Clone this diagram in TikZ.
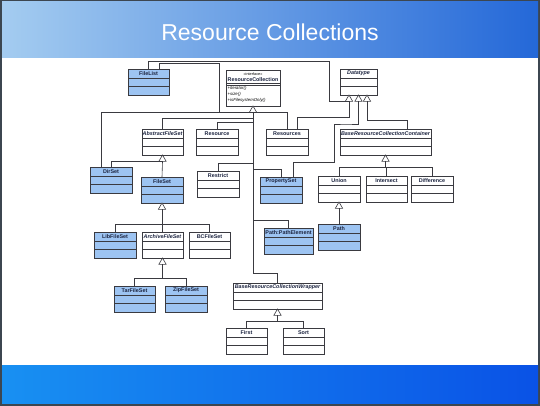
\documentclass[tikz,border=0pt]{standalone}
\usepackage{fontspec}
\setmainfont{Liberation Sans}
\usetikzlibrary{shapes.geometric}

\definecolor{frame}{HTML}{3C4650}
\definecolor{bandL}{HTML}{A4CCF0}
\definecolor{bandR}{HTML}{2468D8}
\definecolor{footL}{HTML}{1890F2}
\definecolor{footR}{HTML}{0A52E6}
\definecolor{clsblue}{HTML}{9DC4F2}
\definecolor{clsline}{HTML}{3A3A40}
\definecolor{navy}{HTML}{1C2440}

\tikzset{
  cls/.style={draw=clsline, line width=0.6pt, fill=white, minimum height=26pt,
    inner sep=0pt, outer sep=0pt, anchor=north west},
  bluecls/.style={cls, fill=clsblue},
  clsfont/.style={font=\fontsize{5.4}{6}\selectfont\bfseries, text=navy, inner sep=0pt},
  sepline/.style={draw=clsline, line width=0.5pt},
  conn/.style={draw=clsline, line width=0.6pt},
  inh/.style={regular polygon, regular polygon sides=3, draw=clsline, fill=white,
    minimum size=8.5pt, inner sep=0pt, outer sep=0pt, line width=0.6pt, anchor=north},
  title/.style={font=\fontsize{23}{26}\selectfont, text=white}
}

% class box: style, name, x, y, width, label
\newcommand{\umlclass}[6]{%
  \node[#1, minimum width=#5pt] (#2) at (#3,#4) {};
  \node[clsfont] (#2-n) at ([yshift=-4.6pt]#2.north) {#6};
  \draw[sepline] ([yshift=-9pt]#2.north west) -- ([yshift=-9pt]#2.north east);
  \draw[sepline] ([yshift=-17.5pt]#2.north west) -- ([yshift=-17.5pt]#2.north east);
}

\begin{document}
\begin{tikzpicture}[x=1pt, y=-1pt]
\useasboundingbox (0,0) rectangle (540,406);
% slide background
\fill[frame] (0,0) rectangle (540,406);
\shade[left color=bandL, right color=bandR] (2,2) rectangle (538,58);
\fill[white] (2,58) rectangle (538,365);
\shade[left color=footL, right color=footR] (2,365) rectangle (538,403);
\node[title] (head) at (270,32) {Resource Collections};

% interface
\node[cls, minimum width=54pt, minimum height=36pt] (RC) at (226,70) {};
\node[font=\fontsize{3.8}{4}\selectfont, inner sep=0pt] (RC-s) at ([yshift=-3.8pt]RC.north) {«interface»};
\node[clsfont] (RC-n) at ([yshift=-9.5pt]RC.north) {ResourceCollection};
\draw[sepline] ([yshift=-13.5pt]RC.north west) -- ([yshift=-13.5pt]RC.north east);
\draw[sepline] ([yshift=-15pt]RC.north west) -- ([yshift=-15pt]RC.north east);
\node[anchor=north west, align=left, inner sep=0pt, font=\fontsize{4.3}{5.9}\selectfont\itshape]
  (RC-m) at ([xshift=1.5pt,yshift=-16pt]RC.north west) {+iterator()\\+size()\\+isFilesystemOnly()};

% classes
\umlclass{bluecls}{FileList}{128}{69}{41}{FileList}
\umlclass{cls}{Datatype}{340}{69}{37}{\itshape Datatype}
\umlclass{cls}{AbstractFileSet}{142}{129}{41}{\itshape AbstractFileSet}
\umlclass{cls}{Resource}{196}{129}{42}{Resource}
\umlclass{cls}{Resources}{266}{129}{42}{Resources}
\umlclass{cls}{BRCC}{340}{129}{91}{\itshape BaseResourceCollectionContainer}
\umlclass{bluecls}{DirSet}{90}{167}{42}{DirSet}
\umlclass{bluecls}{FileSet}{141}{177}{42}{FileSet}
\umlclass{cls}{Restrict}{197}{171}{42}{Restrict}
\umlclass{bluecls}{PropertySet}{260}{177}{42}{PropertySet}
\umlclass{cls}{Union}{318}{176}{42}{Union}
\umlclass{cls}{Intersect}{366}{176}{41}{Intersect}
\umlclass{cls}{Difference}{411}{176}{42}{Difference}
\umlclass{bluecls}{LibFileSet}{94}{232}{42}{LibFileSet}
\umlclass{cls}{ArchiveFileSet}{142}{232}{41}{\itshape ArchiveFileSet}
\umlclass{cls}{BCFileSet}{189}{232}{41}{BCFileSet}
\umlclass{bluecls}{PathElem}{264}{228}{49}{Path:PathElement}
\umlclass{bluecls}{Path}{318}{224}{42}{Path}
\umlclass{bluecls}{TarFileSet}{114}{286}{41}{TarFileSet}
\umlclass{bluecls}{ZipFileSet}{165}{286}{42}{ZipFileSet}
\umlclass{cls}{BRCW}{233}{283}{89}{\itshape BaseResourceCollectionWrapper}
\umlclass{cls}{First}{226}{328}{41}{First}
\umlclass{cls}{Sort}{283}{328}{41}{Sort}

% generalisation heads
\node[inh] (rcT) at (RC.south) {};
\node[inh] (dtA) at ([xshift=-9.5pt]Datatype.south) {};
\node[inh] (dtB) at (Datatype.south) {};
\node[inh] (dtC) at ([xshift=8.5pt]Datatype.south) {};
\node[inh] (afsT) at (AbstractFileSet.south) {};
\node[inh] (fsT) at (FileSet.south) {};
\node[inh] (arT) at (ArchiveFileSet.south) {};
\node[inh] (bccT) at (BRCC.south) {};
\node[inh] (unT) at (Union.south) {};
\node[inh] (bwT) at (BRCW.south) {};

% to ResourceCollection
\draw[conn] ([xshift=10.5pt]FileList.north) |- (219,63) |- (rcT.south);
\draw[conn] ([xshift=-10pt]DirSet.north) |- (rcT.south);
\draw[conn] (AbstractFileSet.north) -- ++(0,-11) -| (rcT.south);
\draw[conn] (Resource.north) -- ++(0,-7) -| (rcT.south);
\draw[conn] (Resources.north) |- (rcT.south);
\draw[conn] (Restrict.north) -- ++(0,-8) -| (rcT.south);
\draw[conn] (PropertySet.north) -- ++(0,-8) -| (rcT.south);
\draw[conn] (PathElem.north) -- ++(0,-8) -| (rcT.south);
\draw[conn] (BRCW.north) -- ++(0,-10) -| (rcT.south);

% to Datatype
\draw[conn] (FileList.north) |- (329,61) |- (dtA.south);
\draw[conn] ([xshift=10pt]Resources.north) -- ++(0,-12) -| (dtA.south);
\draw[conn] ([xshift=12pt]PropertySet.north) |- (334,162) |- (346,124) -| (dtB.south);
\draw[conn] ([xshift=21.5pt]BRCC.north) -- ++(0,-9) -| (dtC.south);

% file sets
\draw[conn] (DirSet.north) |- (afsT.south);
\draw[conn] (FileSet.north) -- (afsT.south);
\draw[conn] (LibFileSet.north) -- ++(0,-8) -| (fsT.south);
\draw[conn] (ArchiveFileSet.north) -- ++(0,-8) -| (fsT.south);
\draw[conn] (BCFileSet.north) -- ++(0,-8) -| (fsT.south);
\draw[conn] (TarFileSet.north) -- ++(0,-8) -| (arT.south);
\draw[conn] (ZipFileSet.north) -- ++(0,-8) -| (arT.south);

% containers and wrappers
\draw[conn] (Union.north) -- ++(0,-9) -| (bccT.south);
\draw[conn] (Intersect.north) -- ++(0,-9) -| (bccT.south);
\draw[conn] (Difference.north) -- ++(0,-9) -| (bccT.south);
\draw[conn] (Path.north) -- (unT.south);
\draw[conn] (First.north) -- ++(0,-7) -| (bwT.south);
\draw[conn] (Sort.north) -- ++(0,-7) -| (bwT.south);
\end{tikzpicture}
\end{document}
